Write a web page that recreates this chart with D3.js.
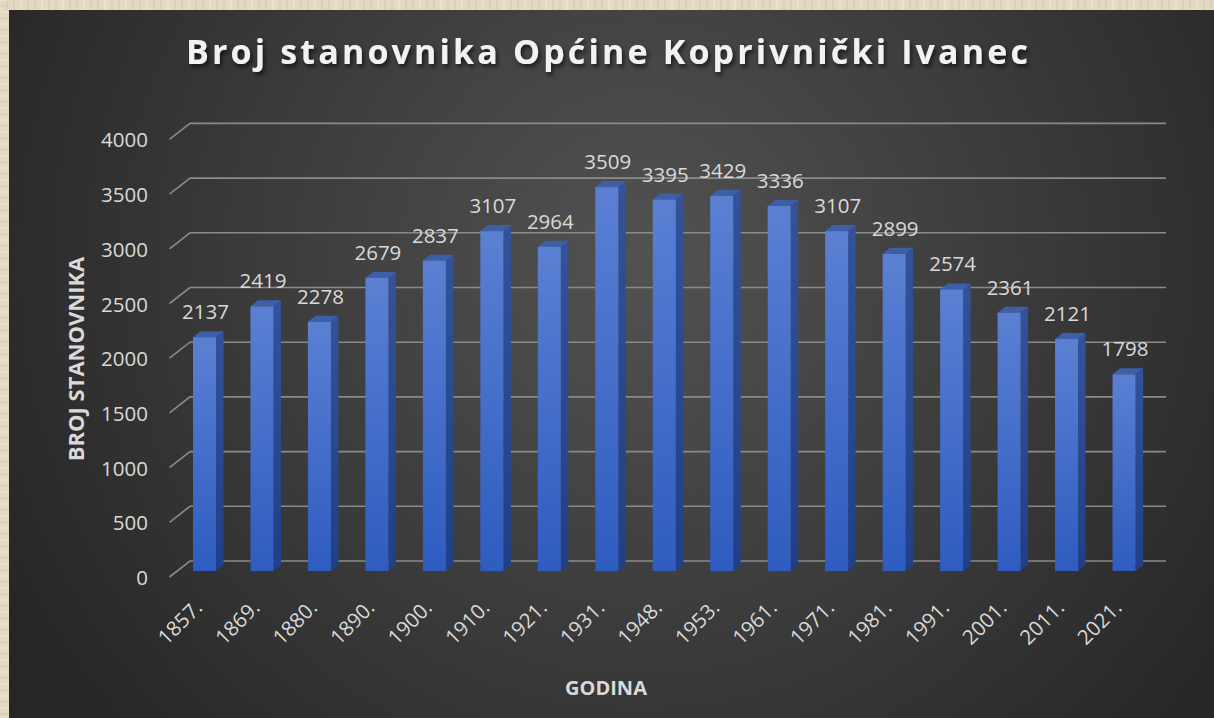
<!DOCTYPE html>
<html><head><meta charset="utf-8">
<script src="https://cdn.jsdelivr.net/npm/d3@7"></script>
<style>html,body{margin:0;padding:0;background:#e4dac4;}svg{display:block;}</style>
</head><body>
<svg id="chart" width="1214" height="718"></svg>
<script>
const categories = ["1857.","1869.","1880.","1890.","1900.","1910.","1921.","1931.","1948.","1953.","1961.","1971.","1981.","1991.","2001.","2011.","2021."];
const population = [2137,2419,2278,2679,2837,3107,2964,3509,3395,3429,3336,3107,2899,2574,2361,2121,1798];
const yTicks = [0,500,1000,1500,2000,2500,3000,3500,4000];
const title = "Broj stanovnika Općine Koprivnički Ivanec";
const yTitle = "BROJ STANOVNIKA";
const xTitle = "GODINA";

const svg = d3.select("#chart");
const defs = svg.append("defs");

// background
const rg = defs.append("radialGradient").attr("id","bg").attr("gradientUnits","userSpaceOnUse")
  .attr("cx",640).attr("cy",260).attr("r",720);
rg.append("stop").attr("offset","0%").attr("stop-color","#525252");
rg.append("stop").attr("offset","55%").attr("stop-color","#3a3a3a");
rg.append("stop").attr("offset","100%").attr("stop-color","#262626");

const fg = defs.append("linearGradient").attr("id","front").attr("x1",0).attr("y1",0).attr("x2",0).attr("y2",1);
fg.append("stop").attr("offset","0%").attr("stop-color","#5b80d3");
fg.append("stop").attr("offset","100%").attr("stop-color","#2e5cc0");
const sg = defs.append("linearGradient").attr("id","side").attr("x1",0).attr("y1",0).attr("x2",0).attr("y2",1);
sg.append("stop").attr("offset","0%").attr("stop-color","#34529a");
sg.append("stop").attr("offset","100%").attr("stop-color","#203f86");

const sh = defs.append("filter").attr("id","shadow").attr("x","-5%").attr("y","-30%").attr("width","110%").attr("height","170%");
sh.append("feDropShadow").attr("dx",2).attr("dy",3).attr("stdDeviation",2).attr("flood-color","#000").attr("flood-opacity",0.6);

// beige frame
svg.append("rect").attr("width",1214).attr("height",718).attr("fill","#e4dac4");
const tex = svg.append("g");
for (let i = 0; i < 1214; i += 7) {
  tex.append("line").attr("x1",i).attr("x2",i).attr("y1",0).attr("y2",10)
    .attr("stroke", i % 3 ? "#cfc3a8" : "#f0e9d8").attr("stroke-width",1.5).attr("opacity",0.6);
}
for (let j = 0; j < 718; j += 6) {
  tex.append("line").attr("x1",0).attr("x2",9).attr("y1",j).attr("y2",j)
    .attr("stroke", j % 4 ? "#cfc3a8" : "#f0e9d8").attr("stroke-width",1.5).attr("opacity",0.6);
}
svg.append("rect").attr("x",9).attr("y",10).attr("width",1205).attr("height",708).attr("fill","url(#bg)");

// scales
const x = d3.scaleBand().domain(categories).range([190,1167]).padding(0);
const y = d3.scaleLinear().domain([0,4000]).range([561,123.4]);
const depthX = -20.5, depthY = 16; // front-plane offset of grid
const barOff = 10; // bar front plane offset

// gridlines
const grid = svg.append("g");
grid.selectAll("path").data(yTicks).join("path")
  .attr("d", d => `M${190+depthX},${y(d)+depthY} L190,${y(d)} L1166,${y(d)}`)
  .attr("fill","none").attr("stroke","#8a8a8a").attr("stroke-width",1.6);

const FS = 20.5;
// y tick labels
svg.append("g").selectAll("text").data(yTicks).join("text")
  .attr("x",148).attr("y", d => y(d)+depthY)
  .attr("text-anchor","end").attr("dominant-baseline","central")
  .attr("font-family","Open Sans, sans-serif").attr("font-size",FS).attr("fill","#d9d9d9")
  .text(d => d);

// bars
const w = 23, dx = 7.5, dy = 6;
const base = y(0) + barOff;
const bars = svg.append("g").selectAll("g").data(categories).join("g");
bars.append("path").attr("fill","url(#side)")
  .attr("d",(c,i)=>{const x0=x(c)+3, t=y(population[i])+barOff;
    return `M${x0+w},${t} L${x0+w+dx},${t-dy} L${x0+w+dx},${base-dy} L${x0+w},${base} Z`;});
bars.append("path").attr("fill","#3d5fa8")
  .attr("d",(c,i)=>{const x0=x(c)+3, t=y(population[i])+barOff;
    return `M${x0},${t} L${x0+dx},${t-dy} L${x0+w+dx},${t-dy} L${x0+w},${t} Z`;});
bars.append("rect").attr("fill","url(#front)")
  .attr("x",c=>x(c)+3).attr("width",w)
  .attr("y",(c,i)=>y(population[i])+barOff).attr("height",(c,i)=>base-(y(population[i])+barOff));

// value labels
svg.append("g").selectAll("text").data(categories).join("text")
  .attr("x",c=>x(c)+3+w/2+1).attr("y",(c,i)=>y(population[i])+barOff-18)
  .attr("text-anchor","middle")
  .attr("font-family","Open Sans, sans-serif").attr("font-size",FS).attr("fill","#d9d9d9")
  .text((c,i)=>population[i]);

// x tick labels
svg.append("g").selectAll("text").data(categories).join("text")
  .attr("transform",c=>`translate(${x(c)+3+w/2-1},609) rotate(-45)`)
  .attr("text-anchor","end")
  .attr("font-family","Open Sans, sans-serif").attr("font-size",FS).attr("fill","#d9d9d9")
  .text(c=>c);

// title
const tt = svg.append("text").attr("x",607).attr("y",64).attr("text-anchor","middle")
  .attr("font-family","Open Sans, sans-serif").attr("font-weight","bold").attr("font-size",34)
  .attr("fill","#f2f2f2").attr("filter","url(#shadow)").text(title);
{
  const wNat = tt.node().getComputedTextLength();
  const n = title.length;
  const ls = (842 - wNat) / (n - 1);
  tt.attr("letter-spacing", ls);
  tt.attr("x", 607 + ls/2);
}

// axis titles
svg.append("text").attr("transform","translate(84,359) rotate(-90)").attr("text-anchor","middle")
  .attr("font-family","Open Sans, sans-serif").attr("font-weight","bold").attr("font-size",22)
  .attr("fill","#d9d9d9").text(yTitle);
svg.append("text").attr("x",606).attr("y",695).attr("text-anchor","middle")
  .attr("font-family","Open Sans, sans-serif").attr("font-weight","bold").attr("font-size",20)
  .attr("fill","#d9d9d9").text(xTitle);
</script>
</body></html>
